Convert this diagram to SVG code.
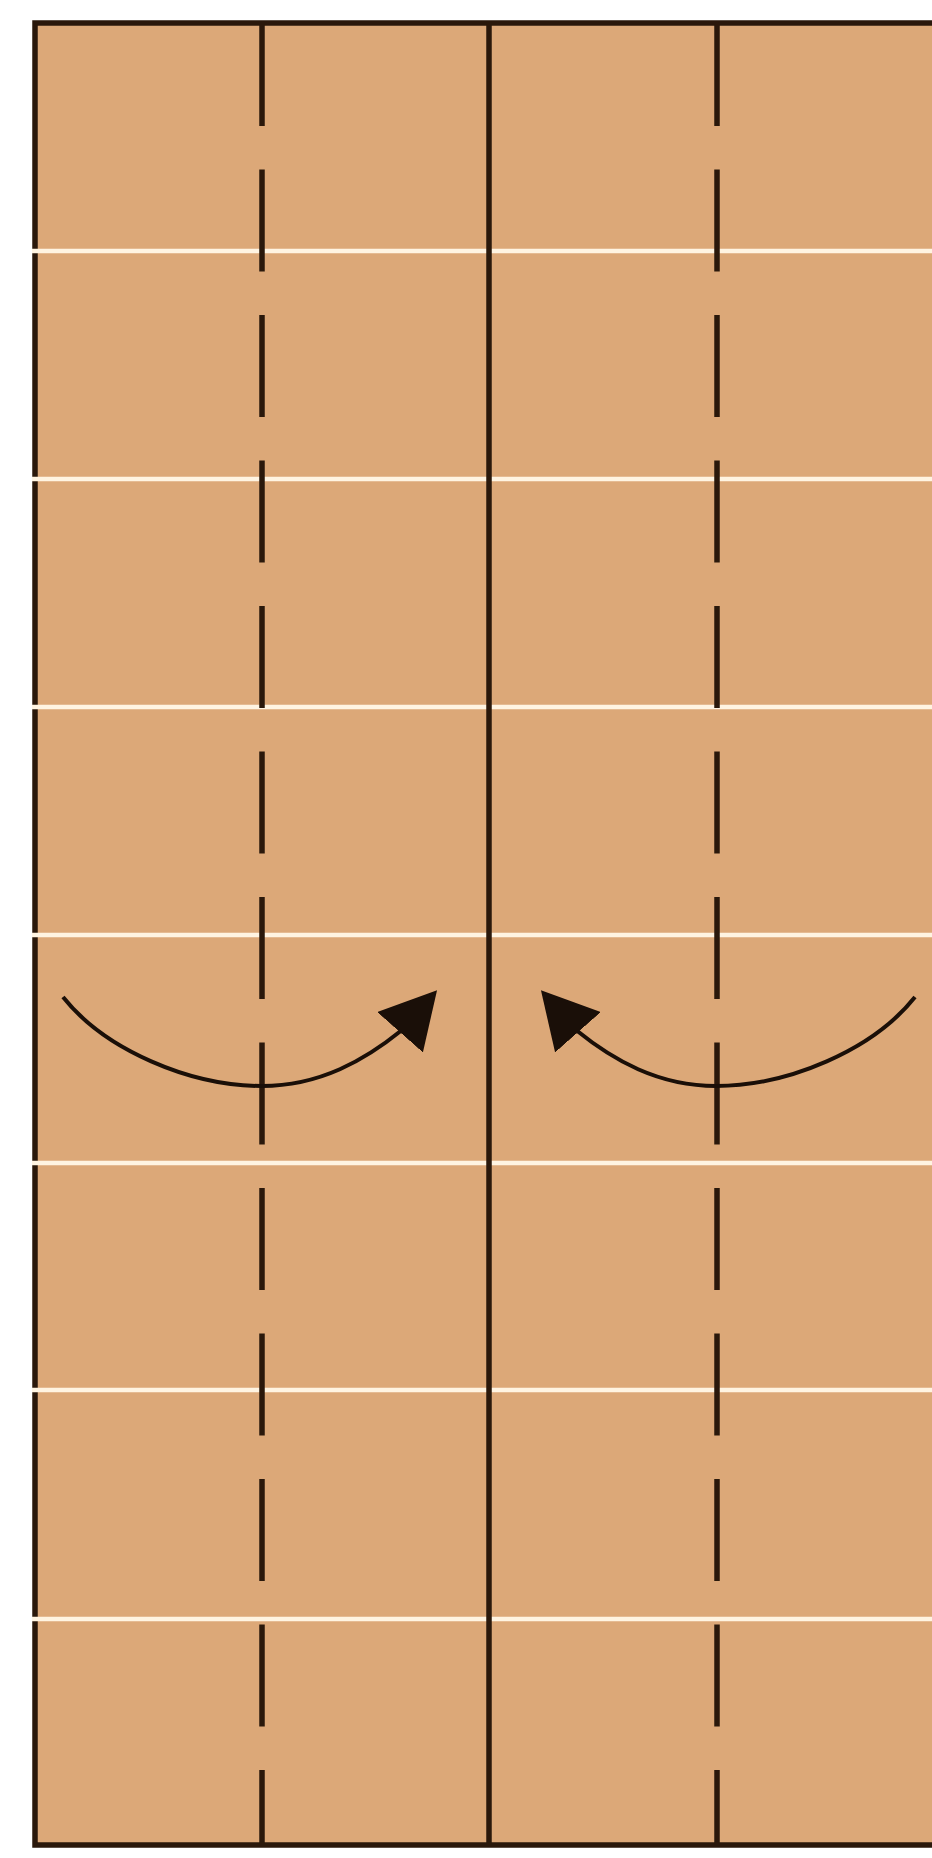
<svg xmlns="http://www.w3.org/2000/svg" width="932" height="1858" viewBox="0 0 932 1858">
  <style>
    .paper { fill: #DCA878; }
    .crease { stroke: #FFF4E2; stroke-width: 4.5; }
    .edge { stroke: #2a180b; stroke-width: 5.5; fill: none; }
    .valley { stroke: #2a180b; stroke-width: 5.5; stroke-dasharray: 102 43.5; fill: none; }
    .arrow { stroke: #1a0f08; stroke-width: 4; fill: none; }
    .head { fill: #1a0f08; }
  </style>
  <defs>
    <marker id="headL" markerUnits="userSpaceOnUse" viewBox="0 0 56 61" refX="3" refY="30.5" markerWidth="56" markerHeight="61" orient="-48.6">
      <path class="head" d="M0,0 L56,30.5 L0,61 Z"/>
    </marker>
    <marker id="headR" markerUnits="userSpaceOnUse" viewBox="0 0 56 61" refX="3" refY="30.5" markerWidth="56" markerHeight="61" orient="-131.4">
      <path class="head" d="M0,0 L56,30.5 L0,61 Z"/>
    </marker>
  </defs>
  <rect width="932" height="1858" fill="#ffffff"/>
  <g id="paper">
    <rect class="paper" x="35" y="23" width="897" height="1822"/>
    <path class="edge" d="M932,23 L35,23 L35,1845 L932,1845"/>
  </g>
  <g id="creases">
    <line class="crease" x1="32" y1="251" x2="932" y2="251"/>
    <line class="crease" x1="32" y1="479" x2="932" y2="479"/>
    <line class="crease" x1="32" y1="707" x2="932" y2="707"/>
    <line class="crease" x1="32" y1="935" x2="932" y2="935"/>
    <line class="crease" x1="32" y1="1163" x2="932" y2="1163"/>
    <line class="crease" x1="32" y1="1390" x2="932" y2="1390"/>
    <line class="crease" x1="32" y1="1619" x2="932" y2="1619"/>
  </g>
  <g id="center-fold">
    <line class="edge" x1="489" y1="23" x2="489" y2="1845"/>
  </g>
  <g id="folds">
    <line class="valley" x1="262" y1="24" x2="262" y2="1845"/>
    <line class="valley" x1="717" y1="24" x2="717" y2="1845"/>
  </g>
  <g id="connectors">
    <path class="arrow" marker-end="url(#headL)" d="M63,997 C105,1050 190,1086 262,1086 C320,1086 365,1060 402,1030"/>
    <path class="arrow" marker-end="url(#headR)" d="M915,997 C873,1050 788,1086 716,1086 C658,1086 613,1060 576,1030"/>
  </g>
</svg>
